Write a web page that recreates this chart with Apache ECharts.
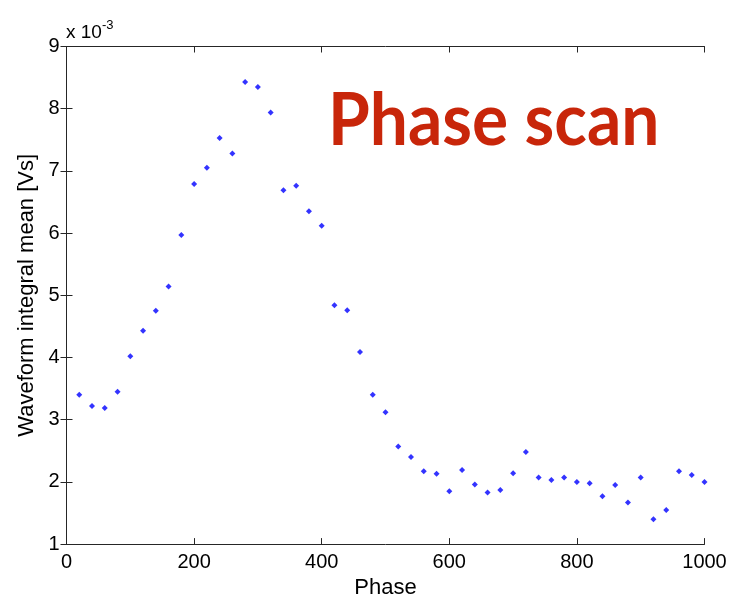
<!DOCTYPE html>
<html>
<head>
<meta charset="utf-8">
<script src="https://cdn.jsdelivr.net/npm/echarts@6/dist/echarts.min.js"></script>
<style>html,body{margin:0;padding:0;background:#fff;}#c{width:743px;height:604px;}</style>
</head>
<body>
<div id="c"></div>
<script>
// Phase values
const phases = [20,40,60,80,100,120,140,160,180,200,220,240,260,280,300,320,340,360,380,400,
  420,440,460,480,500,520,540,560,580,600,620,640,660,680,700,720,740,760,780,800,
  820,840,860,880,900,920,940,960,980,1000];
// Waveform integral mean, in units of 1e-3 Vs
const means = [3.40,3.22,3.19,3.45,4.02,4.43,4.75,5.14,5.97,6.79,7.05,7.53,7.28,8.43,8.35,7.94,6.69,6.76,6.35,6.12,
  4.84,4.76,4.09,3.40,3.12,2.57,2.40,2.17,2.13,1.85,2.19,1.96,1.83,1.87,2.14,2.48,2.07,2.03,2.07,2.00,
  1.98,1.77,1.95,1.67,2.07,1.40,1.55,2.17,2.11,2.00];
const xTicks = [0,200,400,600,800,1000];
const yTicks = [1,2,3,4,5,6,7,8,9];

const chart = echarts.init(document.getElementById('c'));
const axisLine = {show:true, lineStyle:{color:'#262626', width:1}};
const tick = {show:true, inside:true, length:6, lineStyle:{color:'#262626', width:1}};
const FF = 'Liberation Sans, Arial, sans-serif';
const labelFont = {fontFamily:FF, fontSize:20, color:'#000'};
chart.setOption({
  backgroundColor:'#fff',
  animation:false,
  grid:{left:66.5, right:38.5, top:46.5, bottom:55.5, containLabel:false},
  xAxis:[{
    type:'value', min:xTicks[0], max:xTicks[xTicks.length-1], interval:200,
    axisLine, axisTick:tick, splitLine:{show:false},
    axisLabel:Object.assign({margin:8, formatter:v=>String(v)}, labelFont),
    name:'Phase', nameLocation:'middle', nameGap:29,
    nameTextStyle:{fontFamily:FF, fontSize:22, color:'#000'}
  },{
    type:'value', position:'top', min:0, max:1000, interval:200,
    axisLine, axisTick:tick, axisLabel:{show:false}, splitLine:{show:false}
  }],
  yAxis:[{
    type:'value', min:yTicks[0], max:yTicks[yTicks.length-1], interval:1,
    axisLine, axisTick:tick, splitLine:{show:false},
    axisLabel:Object.assign({margin:7, formatter:v=>String(v)}, labelFont),
    name:'Waveform integral mean [Vs]', nameLocation:'middle', nameGap:23.5, nameRotate:90,
    nameTextStyle:{fontFamily:FF, fontSize:22, color:'#000'}
  },{
    type:'value', position:'right', min:1, max:9, interval:1,
    axisLine, axisTick:tick, axisLabel:{show:false}, splitLine:{show:false}
  }],
  series:[{
    type:'scatter',
    data: phases.map((p,i)=>[p, means[i]]),
    symbol:'diamond', symbolSize:6,
    itemStyle:{color:'#0000FF'}
  }],
  graphic:[{
    type:'text', left:66, top:19,
    style:{
      text:'{a|x 10}{s|-3}',
      rich:{
        a:{fontFamily:FF, fontSize:19, fill:'#000', verticalAlign:'bottom'},
        s:{fontFamily:FF, fontSize:13, fill:'#000', verticalAlign:'top', padding:[0,0,10,0]}
      }
    }
  },{
    type:'text', x:328, y:85, scaleX:0.927, scaleY:1,
    style:{
      x:0, y:0,
      text:'Phase scan',
      font:'bold 73px Lato, "Open Sans", sans-serif',
      fill:'#C8260A',
      verticalAlign:'top'
    }
  }]
});
</script>
</body>
</html>
